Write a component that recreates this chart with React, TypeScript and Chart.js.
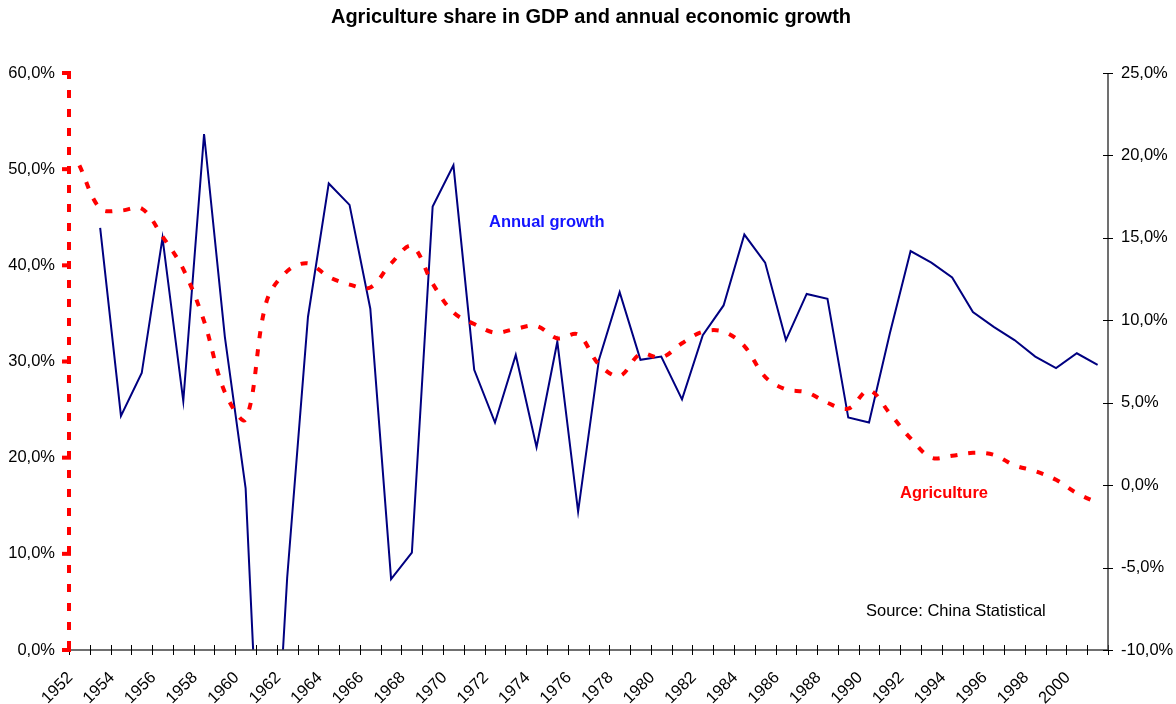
import React, { useEffect, useRef } from "react";
import { Chart, registerables } from "chart.js";

Chart.register(...registerables);

const years: string[] = [];
for (let y = 1952; y <= 2001; y++) years.push(String(y));

const agricultureShare: number[] = [
  50.4, 45.9, 45.7, 45.9, 43.0, 39.6, 34.2, 26.8, 24.0, 36.2,
  39.4, 40.2, 38.8, 38.0, 37.7, 40.2, 42.0, 38.1, 35.1, 33.9,
  33.0, 33.4, 33.7, 32.4, 32.8, 29.7, 28.5, 30.8, 30.4, 31.9,
  33.1, 33.1, 31.6, 28.4, 27.1, 26.8, 25.7, 25.1, 27.0, 24.6,
  22.0, 20.0, 20.2, 20.5, 20.3, 19.2, 18.6, 17.7, 16.3, 15.3,
];

const annualGrowth: (number | null)[] = [
  null, 15.6, 4.2, 6.8, 15.0, 5.1, 21.3, 9.0, -0.2, -27.3,
  -5.6, 10.2, 18.3, 17.0, 10.7, -5.7, -4.1, 16.9, 19.4, 7.0,
  3.8, 7.9, 2.3, 8.7, -1.6, 7.6, 11.7, 7.6, 7.8, 5.2,
  9.1, 10.9, 15.2, 13.5, 8.8, 11.6, 11.3, 4.1, 3.8, 9.2,
  14.2, 13.5, 12.6, 10.5, 9.6, 8.8, 7.8, 7.1, 8.0, 7.3,
];

const leftTicks = { min: 0, max: 60, step: 10 };
const rightTicks = { min: -10, max: 25, step: 5 };

const FONT = "'Liberation Sans', Arial, Helvetica, sans-serif";

const fmtPct = (v: number) => v.toFixed(1).replace(".", ",") + "%";

const decorPlugin = {
  id: "decor",
  afterDraw(chart: any) {
    const { ctx, chartArea } = chart;
    const { left, right, top, bottom } = chartArea;
    const yL = chart.scales.y;
    const yR = chart.scales.y1;
    ctx.save();

    // title
    ctx.fillStyle = "#000";
    ctx.font = `bold 20px ${FONT}`;
    ctx.textAlign = "center";
    ctx.textBaseline = "middle";
    ctx.fillText("Agriculture share in GDP and annual economic growth", 591, 17);

    // x axis line
    ctx.strokeStyle = "#404040";
    ctx.lineWidth = 1.5;
    ctx.setLineDash([]);
    ctx.beginPath();
    ctx.moveTo(left, bottom);
    ctx.lineTo(right, bottom);
    ctx.stroke();

    // x ticks at category boundaries
    const n = years.length;
    ctx.strokeStyle = "#000";
    ctx.lineWidth = 1;
    for (let i = 0; i <= n; i++) {
      const x = Math.round(left + (i * (right - left)) / n) + 0.5;
      ctx.beginPath();
      ctx.moveTo(x, bottom - 5);
      ctx.lineTo(x, bottom + 5);
      ctx.stroke();
    }

    // right axis
    ctx.strokeStyle = "#404040";
    ctx.lineWidth = 1.5;
    ctx.beginPath();
    ctx.moveTo(right, top);
    ctx.lineTo(right, bottom);
    ctx.stroke();
    ctx.strokeStyle = "#000";
    ctx.lineWidth = 1;
    for (let v = rightTicks.min; v <= rightTicks.max; v += rightTicks.step) {
      const y = Math.round(yR.getPixelForValue(v)) + 0.5;
      ctx.beginPath();
      ctx.moveTo(right - 5, y);
      ctx.lineTo(right + 5, y);
      ctx.stroke();
    }

    // left axis: red dashed
    ctx.strokeStyle = "#ff0000";
    ctx.lineWidth = 4;
    ctx.setLineDash([8, 11]);
    ctx.beginPath();
    ctx.moveTo(left, top - 2);
    ctx.lineTo(left, bottom);
    ctx.stroke();
    ctx.setLineDash([]);
    for (let v = leftTicks.min; v <= leftTicks.max; v += leftTicks.step) {
      const y = yL.getPixelForValue(v);
      ctx.beginPath();
      ctx.moveTo(left - 7, y);
      ctx.lineTo(left + 2, y);
      ctx.stroke();
    }

    // annotations
    ctx.textAlign = "left";
    ctx.textBaseline = "middle";
    ctx.font = `bold 16.5px ${FONT}`;
    ctx.fillStyle = "#1414ff";
    ctx.fillText("Annual growth", 489, 222);
    ctx.fillStyle = "#ff0000";
    ctx.fillText("Agriculture", 900, 493);
    ctx.font = `16.5px ${FONT}`;
    ctx.fillStyle = "#000";
    ctx.fillText("Source: China Statistical", 866, 611);

    ctx.restore();
  },
};

export default function App() {
  const ref = useRef<HTMLCanvasElement | null>(null);

  useEffect(() => {
    document.body.style.margin = "0";
    const canvas = ref.current;
    if (!canvas) return;
    const chart = new Chart(canvas, {
      type: "line",
      data: {
        labels: years,
        datasets: [
          {
            label: "Agriculture",
            data: agricultureShare,
            yAxisID: "y",
            borderColor: "#ff0000",
            borderWidth: 4,
            borderDash: [7, 11],
            borderCapStyle: "butt",
            pointRadius: 0,
            tension: 0.35,
            fill: false,
          },
          {
            label: "Annual growth",
            data: annualGrowth,
            yAxisID: "y1",
            borderColor: "#000080",
            borderWidth: 2,
            pointRadius: 0,
            tension: 0,
            fill: false,
          },
        ],
      },
      options: {
        responsive: false,
        animation: false,
        layout: { padding: { top: 73, left: 0, right: 0, bottom: 0 } },
        plugins: {
          legend: { display: false },
          title: { display: false },
          tooltip: { enabled: false },
        },
        scales: {
          x: {
            type: "category",
            offset: true,
            grid: { display: false, drawTicks: false, offset: true },
            border: { display: false },
            ticks: {
              autoSkip: false,
              maxRotation: 45,
              minRotation: 45,
              padding: 18,
              labelOffset: -9,
              color: "#000",
              font: { family: FONT, size: 16.5 },
              callback: (_v: any, i: number) => (i % 2 === 0 ? years[i] : ""),
            },
            afterFit: (s: any) => {
              s.height = 54;
            },
          },
          y: {
            position: "left",
            min: leftTicks.min,
            max: leftTicks.max,
            grid: { display: false, drawTicks: false },
            border: { display: false },
            ticks: {
              stepSize: leftTicks.step,
              padding: 14,
              color: "#000",
              font: { family: FONT, size: 16.5 },
              callback: (v: any) => fmtPct(Number(v)),
            },
            afterFit: (s: any) => {
              s.width = 69;
            },
          },
          y1: {
            position: "right",
            min: rightTicks.min,
            max: rightTicks.max,
            grid: { display: false, drawTicks: false },
            border: { display: false },
            ticks: {
              stepSize: rightTicks.step,
              padding: 13,
              color: "#000",
              font: { family: FONT, size: 16.5 },
              callback: (v: any) => fmtPct(Number(v)),
            },
            afterFit: (s: any) => {
              s.width = 68;
            },
          },
        },
      },
      plugins: [decorPlugin],
    } as any);
    return () => chart.destroy();
  }, []);

  return (
    <div style={{ width: 1176, height: 704 }}>
      <canvas ref={ref} width={1176} height={704} style={{ display: "block" }} />
    </div>
  );
}
